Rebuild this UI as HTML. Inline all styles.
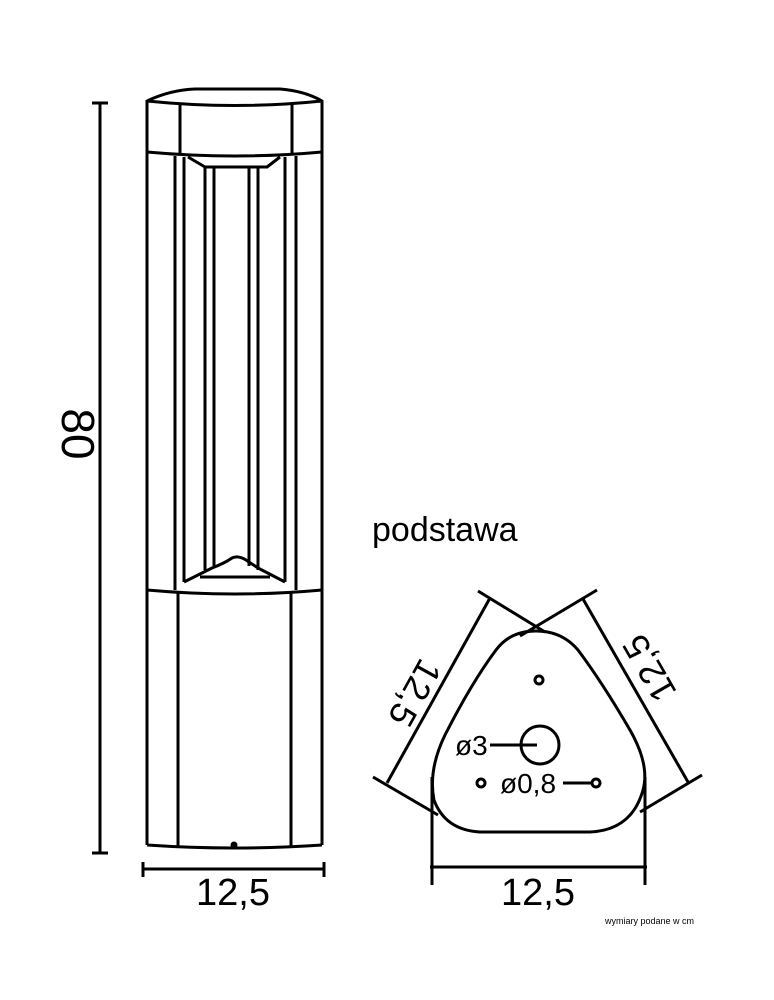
<!DOCTYPE html>
<html><head><meta charset="utf-8"><style>
html,body{margin:0;padding:0;background:#fff;}
svg{display:block;}
text{font-family:"Liberation Sans",sans-serif;fill:#000;}
</style></head><body>
<svg width="774" height="1000" viewBox="0 0 774 1000" xmlns="http://www.w3.org/2000/svg">
<g fill="none" stroke="#000" stroke-width="3" stroke-linejoin="round">
<path d="M147,101 Q170,90 195,89 L280,89 Q305,91 322,101"/>
<path d="M147,101 Q235,110 322,101"/>
<line x1="147" y1="100" x2="147" y2="845"/>
<line x1="322" y1="100" x2="322" y2="845"/>
<line x1="180" y1="104" x2="180" y2="155"/>
<line x1="292" y1="104" x2="292" y2="155"/>
<path d="M147,152 Q235,160 322,152"/>
<path d="M188,157 L205,167 L267,167 L280,157"/>
<line x1="175" y1="156" x2="175" y2="590"/>
<line x1="296" y1="156" x2="296" y2="590"/>
<line x1="184" y1="157" x2="184" y2="582"/>
<line x1="285" y1="157" x2="285" y2="582"/>
<line x1="205" y1="167" x2="205" y2="570"/>
<line x1="214" y1="167" x2="214" y2="566"/>
<line x1="249" y1="167" x2="249" y2="566"/>
<line x1="258" y1="167" x2="258" y2="570"/>
<path d="M184,582 L212,568 Q225,563 232,558 Q238,555 246,560 L258,568 L285,582"/>
<line x1="200" y1="577" x2="270" y2="577"/>
<path d="M147,590 Q235,598 322,590"/>
<line x1="178" y1="593" x2="178" y2="846"/>
<line x1="291" y1="593" x2="291" y2="846"/>
<path d="M147,845 Q235,851 322,845"/>
<line x1="100" y1="103" x2="100" y2="853"/>
<line x1="92" y1="103" x2="108" y2="103"/>
<line x1="92" y1="853" x2="108" y2="853"/>
<line x1="143" y1="869" x2="324" y2="869"/>
<line x1="143" y1="862" x2="143" y2="877"/>
<line x1="324" y1="862" x2="324" y2="877"/>
<path d="M536,631 Q562,631 578,650 Q602,682 630,730 Q650,765 643,790 Q632,830 590,832 L480,832 Q445,830 434,800 Q428,770 445,735 Q472,682 496,650 Q510,631 536,631 Z"/>
<circle cx="539" cy="680" r="4"/>
<circle cx="540" cy="745" r="19"/>
<circle cx="481" cy="783" r="4"/>
<circle cx="596" cy="783" r="4"/>
<line x1="490" y1="745" x2="537" y2="745"/>
<line x1="563" y1="783" x2="592" y2="783"/>
<line x1="387" y1="783" x2="490" y2="598"/>
<line x1="373" y1="777" x2="438" y2="815"/>
<line x1="478" y1="591" x2="545" y2="632"/>
<line x1="583" y1="599" x2="688" y2="782"/>
<line x1="597" y1="590" x2="520" y2="636"/>
<line x1="702" y1="775" x2="640" y2="812"/>
<line x1="432" y1="777" x2="432" y2="885"/>
<line x1="645" y1="777" x2="645" y2="885"/>
<line x1="430" y1="867" x2="647" y2="867"/>
</g>
<circle cx="234" cy="845" r="3.5" fill="#000"/>
<text x="0" y="0" font-size="46" text-anchor="middle" transform="translate(62,434) rotate(90)">80</text>
<text x="233" y="905" font-size="38" text-anchor="middle">12,5</text>
<text x="538" y="905" font-size="38" text-anchor="middle">12,5</text>
<text x="372" y="541" font-size="34">podstawa</text>
<text x="0" y="0" font-size="36" text-anchor="middle" transform="translate(404,687) rotate(119)">12,5</text>
<text x="0" y="0" font-size="36" text-anchor="middle" transform="translate(660,662) rotate(-120)">12,5</text>
<text x="455" y="755" font-size="28">ø3</text>
<text x="500" y="793" font-size="28">ø0,8</text>
<text x="605" y="924" font-size="9">wymiary podane w cm</text>
</svg>
</body></html>
